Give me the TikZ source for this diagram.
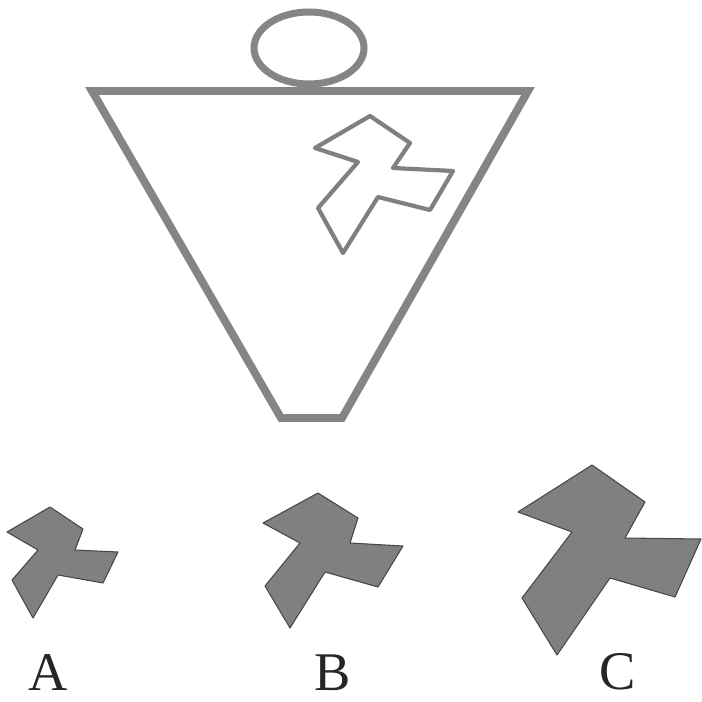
\documentclass[tikz,border=0pt]{standalone}
\usepackage{fontspec}
\setmainfont{Liberation Serif}
\tikzset{
  rim/.style = {draw = black!48, line width = 4.5pt, line join = miter},
  figline/.style = {draw = black!50, line width = 2.4pt, line join = round},
  figfill/.style = {fill = black!50, draw = black!72, line width = 0.6pt, line join = round},
  choice/.style = {anchor = base, inner sep = 0pt, outer sep = 0pt,
    font = \fontsize{31}{33}\selectfont, text = black!85}
}
\begin{document}
\begin{tikzpicture}[x = 0.02cm, y = -0.02cm]
	\useasboundingbox (0,0) rectangle (702,702);
	% bowl with ring on top
	\draw [rim] (92,91) -- (528,91) -- (342,418) -- (281,418) -- cycle;
	\draw [draw = black!48, line width = 4pt] (309,48) ellipse (55 and 36);
	% figure inside the bowl
	\draw [figline] (370,116) -- (410,143) -- (393,168) -- (453,171) -- (430,210)
		-- (378,197) -- (343,253) -- (318,208) -- (358,162) -- (315,148) -- cycle;
	% the three choices
	\filldraw [figfill] (50,507) -- (83,529) -- (75,550) -- (118,552) -- (103,583)
		-- (58,575) -- (33,618) -- (12,580) -- (38,550) -- (7,532) -- cycle;
	\filldraw [figfill] (318,493) -- (358,518) -- (350,543) -- (403,546) -- (378,587)
		-- (325,572) -- (290,628) -- (265,586) -- (300,543) -- (263,523) -- cycle;
	\filldraw [figfill] (592,465) -- (645,502) -- (625,538) -- (701,539) -- (675,597)
		-- (610,578) -- (557,655) -- (522,598) -- (572,532) -- (518,512) -- cycle;
	\node [choice] (labA) at (48,690) {A};
	\node [choice] (labB) at (333,690) {B};
	\node [choice] (labC) at (618,689) {C};
\end{tikzpicture}
\end{document}
